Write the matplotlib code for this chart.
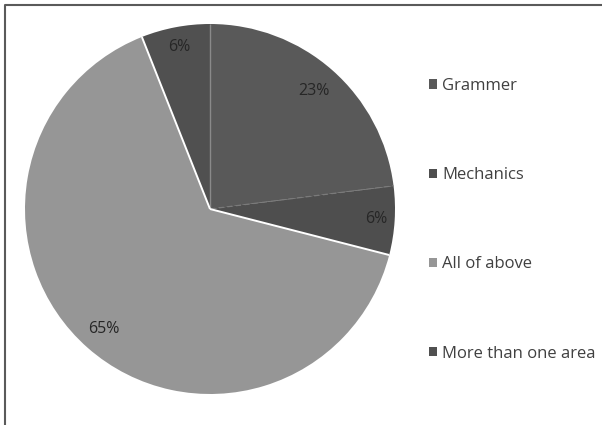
import numpy as np
import matplotlib.pyplot as plt
from matplotlib.lines import Line2D
from matplotlib.patches import Patch

# --- DATA ---
categories = ["Grammer", "Mechanics", "All of above", "More than one area"]
shares = [23, 6, 65, 6]
colors = ["#595959", "#4e4e4e", "#969696", "#505050"]

plt.rcParams['font.family'] = ['Open Sans', 'DejaVu Sans']

W, H = 602, 425
fig = plt.figure(figsize=(W / 100, H / 100), dpi=100)
fig.patch.set_facecolor("white")

# pie area: square box centred at (210, 209) px, radius 185 px
cx, cy, r = 210, 209, 185
ax = fig.add_axes([(cx - r) / W, (H - cy - r) / H, 2 * r / W, 2 * r / H])

wedges, _ = ax.pie(shares, colors=colors, startangle=90, counterclock=False,
                   wedgeprops=dict(linewidth=0))
ax.set_xlim(-1, 1)
ax.set_ylim(-1, 1)
ax.set_aspect("equal")
ax.axis("off")

# slice boundaries: white around the big slice, faint grey between dark ones
bounds = 90 - 3.6 * np.cumsum([0] + shares[:-1])
edge_styles = [("#8a8a8a", "-", 1.0), ("#7a7a7a", (0, (4, 3)), 0.9),
               ("white", "-", 1.4), ("white", "-", 1.4)]
for ang, (ec, ls, lw) in zip(bounds, edge_styles):
    t = np.radians(ang)
    ax.plot([0, np.cos(t)], [0, np.sin(t)], color=ec, linestyle=ls, linewidth=lw,
            solid_capstyle="butt")

# percentage labels inside each slice
label_dist = [0.85, 0.90, 0.865, 0.89]
mids = 90 - 3.6 * (np.cumsum(shares) - np.array(shares) / 2)
for s, m, d in zip(shares, mids, label_dist):
    t = np.radians(m)
    ax.text(d * np.cos(t), d * np.sin(t), f"{s}%", ha="center", va="center",
            fontsize=11.5, color="#262626")

# legend on the right, widely spaced
handles = [Patch(facecolor=c, edgecolor="none") for c in colors]
fig.legend(
    handles, categories, loc="upper left",
    bbox_to_anchor=(429 / W, 1 - 78 / H),
    frameon=False, fontsize=12, labelcolor="#404040",
    handlelength=0.48, handleheight=0.48, handletextpad=0.3,
    labelspacing=4.39, borderaxespad=0, borderpad=0,
)

# frame edge along the left and top
fig.add_artist(Line2D([4.5 / W, 4.5 / W, 1.0], [0.0, 1 - 4.5 / H, 1 - 4.5 / H],
                      transform=fig.transFigure, color="#5a5a5a", linewidth=1.5))

fig.savefig("out.png", dpi=100)
